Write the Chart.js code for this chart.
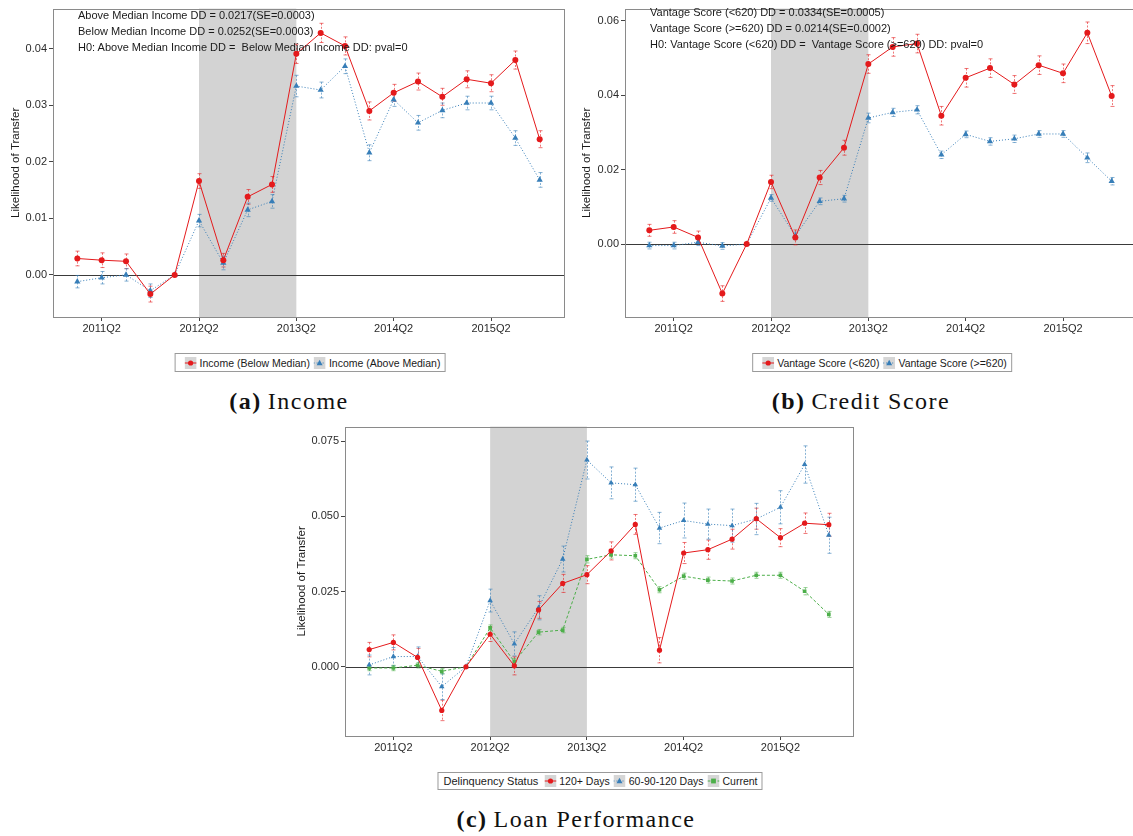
<!DOCTYPE html>
<html>
<head>
<meta charset="utf-8">
<script src="https://cdn.jsdelivr.net/npm/chart.js@4.4.1/dist/chart.umd.min.js"></script>
<style>
  body { margin: 0; width: 1133px; height: 836px; overflow: hidden; background: #fff; position: relative;
         font-family: "Liberation Sans", Arial, sans-serif; color: #1a1a1a; }
  canvas { position: absolute; }
  .ann { position: absolute; font-size: 11px; line-height: 16px; white-space: nowrap; color: #1a1a1a; }
  .legend { position: absolute; transform: translateX(-50%); border: 1px solid #9a9a9a; display: flex;
            align-items: center; font-size: 10.5px; white-space: nowrap; padding: 0 4px 0 5px; box-sizing: border-box; }
  .legend svg { margin: 0 3px 0 4px; display: block; }
  .legend .ttl { margin-right: 2px; font-size: 11px; }
  .caption { position: absolute; transform: translateX(-50%); font-family: "Liberation Serif", "Times New Roman", serif;
             font-size: 24px; line-height: 24px; letter-spacing: 1.5px; white-space: nowrap; color: #111; }
  .caption b { margin-right: 6px; }
</style>
</head>
<body>
<canvas id="incomeChart" width="568" height="340" style="left:0;top:0"></canvas>
<canvas id="scoreChart" width="570" height="340" style="left:570px;top:0"></canvas>
<canvas id="loanChart" width="567" height="341" style="left:290px;top:418px"></canvas>

<div class="ann" style="left:78px;top:7px">Above Median Income DD = 0.0217(SE=0.0003)<br>Below Median Income DD = 0.0252(SE=0.0003)<br>H0: Above Median Income DD =&nbsp; Below Median Income DD: pval=0</div>
<div class="ann" style="left:650px;top:4px">Vantage Score (&lt;620) DD = 0.0334(SE=0.0005)<br>Vantage Score (&gt;=620) DD = 0.0214(SE=0.0002)<br>H0: Vantage Score (&lt;620) DD =&nbsp; Vantage Score (&gt;=620) DD: pval=0</div>

<div class="legend" id="incomeLegend" style="left:310px;top:353px;height:19px"></div>
<div class="legend" id="scoreLegend" style="left:882px;top:353px;height:19px"></div>
<div class="legend" id="loanLegend" style="left:600px;top:772px;height:18px"></div>

<div class="caption" style="left:289px;top:389px"><b>(a)</b>Income</div>
<div class="caption" style="left:861px;top:389px"><b>(b)</b>Credit Score</div>
<div class="caption" style="left:576px;top:807px"><b>(c)</b>Loan Performance</div>

<script>
// quarters on the x axis (one point per quarter)
const quarters = ['2011Q1','2011Q2','2011Q3','2011Q4','2012Q1','2012Q2','2012Q3','2012Q4',
                  '2013Q1','2013Q2','2013Q3','2013Q4','2014Q1','2014Q2','2014Q3','2014Q4',
                  '2015Q1','2015Q2','2015Q3','2015Q4'];
const xTickLabels = ['2011Q2','2012Q2','2013Q2','2014Q2','2015Q2'];
const shadeStart = '2012Q2';
const shadeEnd = '2013Q2';

// (a) Income
const incomeBelow    = [0.0029, 0.0026, 0.0024, -0.0034, 0, 0.0166, 0.0026, 0.0138, 0.0160, 0.0391,
                        0.0428, 0.0405, 0.0290, 0.0322, 0.0342, 0.0315, 0.0346, 0.0339, 0.0380, 0.0240];
const incomeBelowErr = [0.0013, 0.0013, 0.0013, 0.0014, 0, 0.0013, 0.0012, 0.0013, 0.0014, 0.0017,
                        0.0017, 0.0016, 0.0016, 0.0015, 0.0015, 0.0015, 0.0015, 0.0015, 0.0016, 0.0015];
const incomeAbove    = [-0.0012, -0.0005, 0.0000, -0.0028, 0, 0.0096, 0.0021, 0.0115, 0.0130, 0.0334,
                        0.0327, 0.0369, 0.0216, 0.0310, 0.0269, 0.0291, 0.0304, 0.0304, 0.0242, 0.0168];
const incomeAboveErr = [0.0011, 0.0011, 0.0011, 0.0012, 0, 0.0011, 0.0012, 0.0012, 0.0012, 0.0019,
                        0.0014, 0.0013, 0.0014, 0.0012, 0.0013, 0.0013, 0.0012, 0.0012, 0.0013, 0.0013];
const incomeYTicks = [0, 0.01, 0.02, 0.03, 0.04];

// (b) Credit Score
const scoreLow     = [0.0037, 0.0046, 0.0018, -0.0133, 0, 0.0167, 0.0018, 0.0179, 0.0259, 0.0484,
                      0.0530, 0.0539, 0.0345, 0.0447, 0.0473, 0.0429, 0.0481, 0.0459, 0.0568, 0.0398];
const scoreLowErr  = [0.0016, 0.0017, 0.0017, 0.0021, 0, 0.0018, 0.0020, 0.0019, 0.0020, 0.0025,
                      0.0025, 0.0025, 0.0025, 0.0025, 0.0025, 0.0024, 0.0025, 0.0025, 0.0029, 0.0028];
const scoreHigh    = [-0.0004, -0.0004, 0.0005, -0.0005, 0, 0.0124, 0.0022, 0.0115, 0.0122, 0.0339,
                      0.0354, 0.0361, 0.0240, 0.0295, 0.0276, 0.0283, 0.0296, 0.0296, 0.0232, 0.0169];
const scoreHighErr = [0.0009, 0.0009, 0.0009, 0.0009, 0, 0.0009, 0.0010, 0.0009, 0.0009, 0.0013,
                      0.0011, 0.0011, 0.0010, 0.0009, 0.0010, 0.0010, 0.0009, 0.0009, 0.0013, 0.0010];
const scoreYTicks = [0, 0.02, 0.04, 0.06];

// (c) Loan Performance
const delinq120      = [0.0057, 0.0081, 0.0031, -0.0145, 0, 0.0108, 0.0003, 0.0189, 0.0277, 0.0306,
                        0.0385, 0.0473, 0.0055, 0.0378, 0.0389, 0.0424, 0.0492, 0.0429, 0.0477, 0.0472];
const delinq120Err   = [0.0024, 0.0025, 0.0030, 0.0034, 0, 0.0024, 0.0030, 0.0028, 0.0030, 0.0030,
                        0.0030, 0.0033, 0.0042, 0.0035, 0.0032, 0.0033, 0.0035, 0.0030, 0.0034, 0.0038];
const delinq6090     = [0.0006, 0.0034, 0.0034, -0.0066, 0, 0.0220, 0.0076, 0.0196, 0.0358, 0.0687,
                        0.0611, 0.0605, 0.0461, 0.0486, 0.0474, 0.0469, 0.0491, 0.0530, 0.0672, 0.0437];
const delinq6090Err  = [0.0033, 0.0030, 0.0032, 0.0043, 0, 0.0038, 0.0040, 0.0040, 0.0043, 0.0063,
                        0.0053, 0.0055, 0.0052, 0.0058, 0.0050, 0.0055, 0.0052, 0.0055, 0.0062, 0.0060];
const delinqCurrent  = [-0.0004, -0.0004, 0.0005, -0.0015, 0, 0.0129, 0.0017, 0.0115, 0.0122, 0.0357,
                        0.0372, 0.0369, 0.0256, 0.0301, 0.0288, 0.0285, 0.0304, 0.0304, 0.0251, 0.0174];
const delinqCurrentErr = [0.0009, 0.0009, 0.0009, 0.0009, 0, 0.0010, 0.0010, 0.0009, 0.0009, 0.0012,
                        0.0011, 0.0010, 0.0010, 0.0010, 0.0010, 0.0010, 0.0010, 0.0010, 0.0012, 0.0010];
const loanYTicks = [0, 0.025, 0.05, 0.075];

const RED = '#E41A1C', BLUE = '#377EB8', GREEN = '#4DAF4A';
const RED_ERR = 'rgba(228,26,28,0.6)', BLUE_ERR = 'rgba(55,126,184,0.6)', GREEN_ERR = 'rgba(77,175,74,0.6)';

// shaded window, zero line, error bars and panel box
const panelDecor = {
  id: 'panelDecor',
  beforeDatasetsDraw(chart) {
    const { ctx, chartArea: a, scales: { x, y } } = chart;
    ctx.save();
    const x0 = x.getPixelForValue(quarters.indexOf(shadeStart));
    const x1 = x.getPixelForValue(quarters.indexOf(shadeEnd));
    ctx.fillStyle = '#d3d3d3';
    ctx.fillRect(x0, a.top, x1 - x0, a.bottom - a.top);

    const y0 = Math.round(y.getPixelForValue(0)) + 0.5;
    ctx.strokeStyle = '#3a3a3a';
    ctx.lineWidth = 1;
    ctx.beginPath();
    ctx.moveTo(a.left, y0);
    ctx.lineTo(a.right, y0);
    ctx.stroke();

    chart.data.datasets.forEach((ds, i) => {
      if (!ds.err) return;
      ctx.strokeStyle = ds.errColor;
      ctx.lineWidth = 1;
      chart.getDatasetMeta(i).data.forEach((pt, j) => {
        const e = ds.err[j];
        if (!e) return;
        const v = ds.data[j].y;
        const px = Math.round(pt.x) + 0.5;
        const yt = y.getPixelForValue(v + e), yb = y.getPixelForValue(v - e);
        ctx.setLineDash([2, 1.5]);
        ctx.beginPath();
        ctx.moveTo(px, yt);
        ctx.lineTo(px, yb);
        ctx.stroke();
        ctx.setLineDash([]);
        ctx.beginPath();
        ctx.moveTo(px - 2, yt); ctx.lineTo(px + 2, yt);
        ctx.moveTo(px - 2, yb); ctx.lineTo(px + 2, yb);
        ctx.stroke();
      });
    });
    ctx.restore();
  },
  afterDraw(chart) {
    const { ctx, chartArea: a } = chart;
    ctx.save();
    ctx.strokeStyle = '#8a8a8a';
    ctx.lineWidth = 1;
    ctx.strokeRect(Math.round(a.left) + 0.5, Math.round(a.top) + 0.5,
                   Math.round(a.right - a.left), Math.round(a.bottom - a.top));
    ctx.restore();
  }
};

function series(label, values, err, color, errColor, style, dash, radius) {
  return {
    label: label,
    data: values.map((v, i) => ({ x: i, y: v })),
    err: err,
    errColor: errColor,
    borderColor: color,
    backgroundColor: color,
    borderWidth: 1,
    borderDash: dash,
    pointStyle: style,
    pointRadius: radius,
    pointBorderWidth: 0,
    pointBackgroundColor: color,
    tension: 0
  };
}

function buildChart(id, datasets, yMin, yMax, yTicks, digits, axisWidth, titlePad, padRight) {
  return new Chart(document.getElementById(id), {
    type: 'line',
    data: { datasets: datasets },
    plugins: [panelDecor],
    options: {
      responsive: false,
      animation: false,
      devicePixelRatio: 1,
      layout: { padding: { top: 2, right: padRight, left: 0, bottom: 0 } },
      plugins: { legend: { display: false }, tooltip: { enabled: false } },
      scales: {
        x: {
          type: 'linear', min: -1, max: quarters.length,
          afterBuildTicks: s => { s.ticks = xTickLabels.map(l => ({ value: quarters.indexOf(l) })); },
          afterFit: s => { s.height = 23; },
          ticks: { callback: v => quarters[v], color: '#2b2b2b', font: { size: 11, family: 'Liberation Sans' },
                   padding: 1, maxRotation: 0, autoSkip: false },
          grid: { drawOnChartArea: false, drawTicks: true, tickLength: 4, color: '#444' },
          border: { display: false }
        },
        y: {
          min: yMin, max: yMax,
          afterBuildTicks: s => { s.ticks = yTicks.map(v => ({ value: v })); },
          afterFit: s => { s.width = axisWidth; },
          ticks: { callback: v => v.toFixed(digits), color: '#2b2b2b', font: { size: 11, family: 'Liberation Sans' },
                   padding: 2, autoSkip: false },
          grid: { drawOnChartArea: false, drawTicks: true, tickLength: 4, color: '#444' },
          border: { display: false },
          title: { display: true, text: 'Likelihood of Transfer', color: '#1a1a1a',
                   font: { size: 11.5, family: 'Liberation Sans' }, padding: { top: titlePad, bottom: 0 } }
        }
      }
    }
  });
}

function keySvg(ds) {
  const c = ds.borderColor;
  let mark;
  if (ds.pointStyle === 'circle') mark = `<circle cx="6" cy="6" r="2.6" fill="${c}"/>`;
  else if (ds.pointStyle === 'triangle') mark = `<polygon points="6,2.8 9,8.2 3,8.2" fill="${c}"/>`;
  else mark = `<rect x="3.6" y="3.6" width="4.8" height="4.8" fill="${c}"/>`;
  const dash = ds.borderDash && ds.borderDash.length ? `stroke-dasharray="${ds.borderDash.join(' ')}"` : '';
  return `<svg width="12" height="12"><rect width="12" height="12" fill="#d6d6d6"/>` +
         `<line x1="0" y1="6" x2="12" y2="6" stroke="${c}" stroke-width="1" ${dash}/>${mark}</svg>`;
}

function buildLegend(id, chart, title) {
  const box = document.getElementById(id);
  let html = title ? `<span class="ttl">${title}</span>` : '';
  chart.data.datasets.forEach(ds => { html += keySvg(ds) + `<span>${ds.label}</span>`; });
  box.innerHTML = html;
}

const incomeChart = buildChart('incomeChart', [
  series('Income (Below Median)', incomeBelow, incomeBelowErr, RED, RED_ERR, 'circle', [], 3),
  series('Income (Above Median)', incomeAbove, incomeAboveErr, BLUE, BLUE_ERR, 'triangle', [1, 2], 3.6)
], -0.00745, 0.0471, incomeYTicks, 2, 53, 9.4, 2);

const scoreChart = buildChart('scoreChart', [
  series('Vantage Score (<620)', scoreLow, scoreLowErr, RED, RED_ERR, 'circle', [], 3),
  series('Vantage Score (>=620)', scoreHigh, scoreHighErr, BLUE, BLUE_ERR, 'triangle', [1, 2], 3.6)
], -0.0196, 0.0633, scoreYTicks, 2, 55, 10.4, 3);

const loanChart = buildChart('loanChart', [
  series('120+ Days', delinq120, delinq120Err, RED, RED_ERR, 'circle', [], 2.6),
  series('60-90-120 Days', delinq6090, delinq6090Err, BLUE, BLUE_ERR, 'triangle', [1, 2], 3.2),
  series('Current', delinqCurrent, delinqCurrentErr, GREEN, GREEN_ERR, 'rect', [3, 2], 2.6)
], -0.0230, 0.0798, loanYTicks, 3, 55, 5.4, 1);

buildLegend('incomeLegend', incomeChart);
buildLegend('scoreLegend', scoreChart);
buildLegend('loanLegend', loanChart, 'Delinquency Status');
</script>
</body>
</html>
